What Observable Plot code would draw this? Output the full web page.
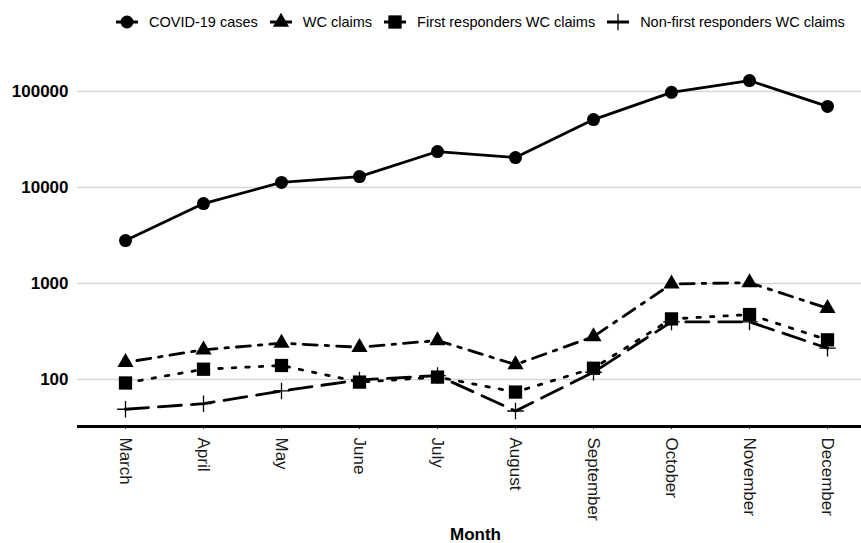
<!DOCTYPE html>
<html>
<head>
<meta charset="utf-8">
<script src="https://cdn.jsdelivr.net/npm/d3@7"></script>
<script src="https://cdn.jsdelivr.net/npm/@observablehq/plot@0.6"></script>
<style>
  html, body { margin: 0; padding: 0; background: #fff; }
  body { width: 861px; height: 543px; overflow: hidden; font-family: "Liberation Sans", Arial, sans-serif; }
  #legend { height: 44px; display: flex; align-items: center; padding-left: 112px; box-sizing: border-box; font-size: 14.5px; color: #000; }
  .key { display: flex; align-items: center; }
  .key svg { display: block; }
  .key span { margin-left: 7px; margin-right: 8px; white-space: nowrap; }
  #xlabel { width: 861px; text-align: center; padding-left: 90px; box-sizing: border-box; font-weight: bold; font-size: 17px; line-height: 17px; color: #000; }
</style>
</head>
<body>
<div id="legend"></div>
<div id="chart"></div>
<div id="xlabel">Month</div>
<script>
// ---- data ----
const months = ["March", "April", "May", "June", "July", "August", "September", "October", "November", "December"];
const covidCases = [2800, 6800, 11300, 13000, 23700, 20500, 51000, 98000, 130000, 70000];
const wcClaims = [151, 204, 239, 217, 255, 143, 280, 990, 1020, 553];
const firstRespondersClaims = [92, 128, 140, 94, 106, 74, 131, 428, 475, 259];
const nonFirstRespondersClaims = [49, 56, 76, 99, 110, 47, 119, 398, 398, 212];
const seriesNames = ["COVID-19 cases", "WC claims", "First responders WC claims", "Non-first responders WC claims"];
const yTicks = [100, 1000, 10000, 100000];

// ---- styles ----
const seriesStyle = [
  {values: covidCases, symbol: "circle", r: 6.5, dash: null, filled: true},
  {values: wcClaims, symbol: "triangle", r: 6, dash: "3.5,8,14,8", filled: true},
  {values: firstRespondersClaims, symbol: "square", r: 7.5, dash: "3.5,10", filled: true},
  {values: nonFirstRespondersClaims, symbol: "plus", r: 5.4, dash: "23,10", filled: false}
];

const series = seriesNames.map((name, i) => ({
  name, ...seriesStyle[i],
  data: months.map((m, j) => ({month: m, value: seriesStyle[i].values[j]}))
}));

// ---- legend ----
const d3Symbols = {circle: d3.symbolCircle, triangle: d3.symbolTriangle, square: d3.symbolSquare, plus: d3.symbolPlus};
const legend = d3.select("#legend");
series.forEach(s => {
  const key = legend.append("div").attr("class", "key");
  const svg = key.append("svg").attr("width", 30).attr("height", 24);
  svg.append("line").attr("x1", 4).attr("x2", 26).attr("y1", 12).attr("y2", 12)
    .attr("stroke", "#000").attr("stroke-width", 3);
  svg.append("path")
    .attr("transform", "translate(15,12)")
    .attr("d", d3.symbol(d3Symbols[s.symbol], Math.PI * s.r * s.r)())
    .attr("fill", s.filled ? "#000" : "none")
    .attr("stroke", "#000")
    .attr("stroke-width", s.filled ? 0 : 1.3);
  key.append("span").text(s.name);
});

// ---- chart ----
const yDomain = [32.4, 243000];
const marks = [
  Plot.gridY(yTicks, {stroke: "#d6d6d6", strokeOpacity: 1, strokeWidth: 1.6}),
  Plot.axisY(yTicks, {tickSize: 0, tickPadding: 9, tickFormat: d3.format("d"), fontSize: 17, fontWeight: "bold", fill: "#000", label: null}),
  Plot.axisX({tickSize: 3, tickPadding: 8, tickRotate: 90, fontSize: 17, fill: "#1a1a1a", stroke: "#333", label: null}),
  Plot.ruleY([yDomain[0]], {stroke: "#000", strokeWidth: 3})
];
series.forEach(s => {
  marks.push(Plot.line(s.data, {x: "month", y: "value", stroke: "#000", strokeWidth: 2.8, strokeDasharray: s.dash || undefined}));
});
series.forEach(s => {
  marks.push(Plot.dot(s.data, s.filled
    ? {x: "month", y: "value", symbol: s.symbol, r: s.r, fill: "#000", stroke: "none"}
    : {x: "month", y: "value", symbol: s.symbol, r: s.r, stroke: "#000", strokeWidth: 1.3, fill: "none"}));
});

const chart = Plot.plot({
  width: 861,
  height: 482,
  marginLeft: 77,
  marginRight: 0,
  marginTop: 10,
  marginBottom: 100,
  style: {background: "#fff", fontFamily: "'Liberation Sans', Arial, sans-serif"},
  x: {type: "point", domain: months, range: [123, 828], padding: 0, label: null},
  y: {type: "log", domain: yDomain, label: null},
  marks
});
document.getElementById("chart").appendChild(chart);
</script>
</body>
</html>
